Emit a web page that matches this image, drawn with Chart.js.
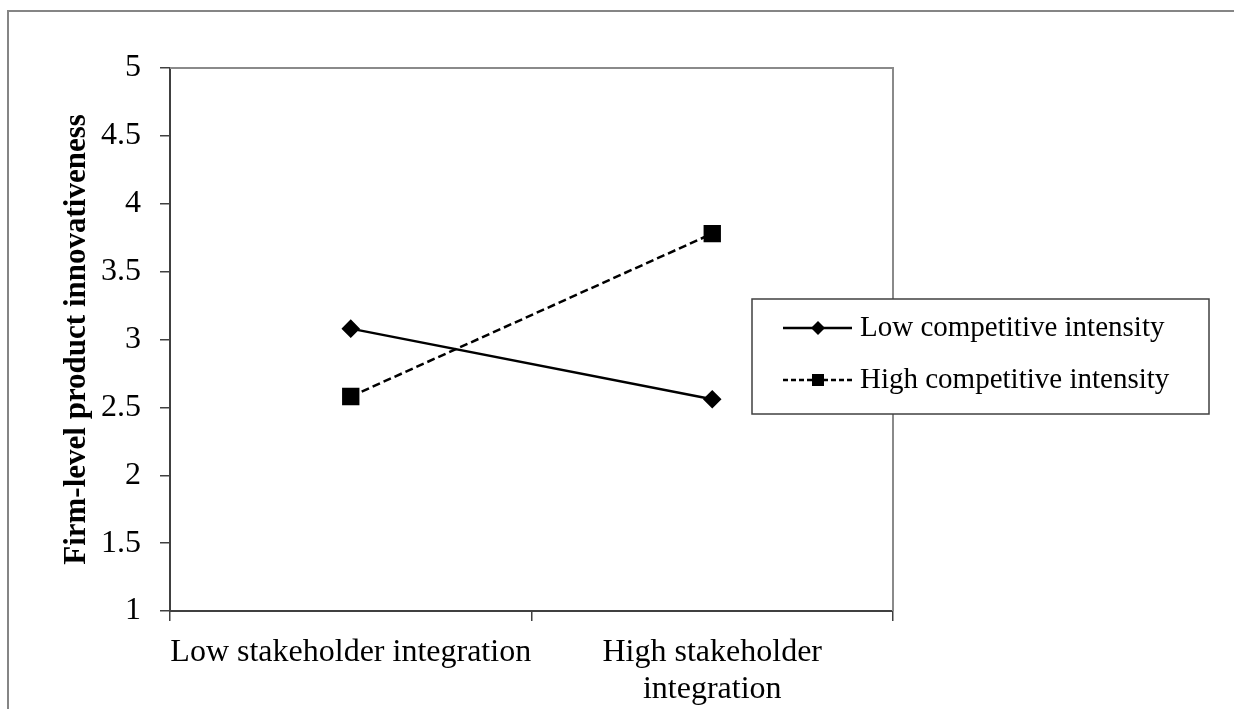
<!DOCTYPE html>
<html lang="en">
<head>
  <meta charset="UTF-8">
  <title>Firm-level product innovativeness</title>
  <script src="https://cdn.jsdelivr.net/npm/chart.js"></script>
  <style>
    html, body {
      margin: 0;
      height: 100%;
      background: #fff;
    }
    #wrap {
      width: 1234px;
      height: 709px;
      position: relative;
    }
  </style>
</head>
<body>

<div id="wrap">
  <canvas id="plot"></canvas>
</div>

<script>
// data
const categories = ['Low stakeholder integration', ['High stakeholder', 'integration']];
const lowCompetition = [3.08, 2.56];
const highCompetition = [2.58, 3.78];
const seriesNames = ['Low competitive intensity', 'High competitive intensity'];
const yMin = 1, yMax = 5, yStep = 0.5;

const FONT = '"Liberation Serif", "Times New Roman", serif';

// frame, plot border and boxed legend
const decor = {
  id: 'decor',
  afterDraw(chart) {
    const ctx = chart.ctx;
    const a = chart.chartArea;
    ctx.save();

    // outer frame (left + top)
    ctx.strokeStyle = '#858585';
    ctx.lineWidth = 2;
    ctx.beginPath();
    ctx.moveTo(8, 709);
    ctx.lineTo(8, 11);
    ctx.lineTo(1234, 11);
    ctx.stroke();

    // plot area top / right edge
    ctx.strokeStyle = '#8a8a8a';
    ctx.beginPath();
    ctx.moveTo(a.left, a.top);
    ctx.lineTo(a.right, a.top);
    ctx.lineTo(a.right, a.bottom);
    ctx.stroke();

    // legend
    const bx = 752, by = 299, bw = 457, bh = 115;
    ctx.fillStyle = '#fff';
    ctx.fillRect(bx, by, bw, bh);
    ctx.strokeStyle = '#404040';
    ctx.lineWidth = 1.5;
    ctx.strokeRect(bx, by, bw, bh);

    const rows = [328, 380];
    chart.data.datasets.forEach((ds, i) => {
      const y = rows[i];
      ctx.strokeStyle = '#000';
      ctx.lineWidth = 2.5;
      ctx.setLineDash(i === 0 ? [] : [5, 3]);
      ctx.beginPath();
      ctx.moveTo(783, y);
      ctx.lineTo(852, y);
      ctx.stroke();
      ctx.setLineDash([]);
      ctx.fillStyle = '#000';
      ctx.beginPath();
      if (ds.pointStyle === 'rectRot') {
        ctx.moveTo(818, y - 7);
        ctx.lineTo(825, y);
        ctx.lineTo(818, y + 7);
        ctx.lineTo(811, y);
        ctx.closePath();
      } else {
        ctx.rect(812, y - 6, 12, 12);
      }
      ctx.fill();

      ctx.font = '29px ' + FONT;
      ctx.textBaseline = 'middle';
      ctx.textAlign = 'left';
      ctx.fillText(ds.label, 860, y);
    });

    ctx.restore();
  }
};

new Chart(document.getElementById('plot'), {
  type: 'line',
  data: {
    labels: categories,
    datasets: [
      {
        label: seriesNames[0],
        data: lowCompetition,
        borderColor: '#000',
        backgroundColor: '#000',
        borderWidth: 2.5,
        pointStyle: 'rectRot',
        pointRadius: 7.5,
        pointHoverRadius: 7.5
      },
      {
        label: seriesNames[1],
        data: highCompetition,
        borderColor: '#000',
        backgroundColor: '#000',
        borderWidth: 2.5,
        borderDash: [8, 4],
        pointStyle: 'rect',
        pointRadius: 10.5,
        pointHoverRadius: 10.5
      }
    ]
  },
  options: {
    responsive: true,
    maintainAspectRatio: false,
    animation: false,
    layout: { padding: { left: 40, top: 68, right: 341, bottom: 0 } },
    plugins: {
      legend: { display: false },
      tooltip: { enabled: false }
    },
    scales: {
      x: {
        offset: true,
        grid: {
          offset: true,
          drawOnChartArea: false,
          tickLength: 10,
          color: '#404040',
          lineWidth: 1.5
        },
        border: { color: '#404040', width: 2 },
        ticks: {
          color: '#000',
          padding: 13,
          maxRotation: 0,
          autoSkip: false,
          font: { family: FONT, size: 32, lineHeight: 1.15 }
        },
        afterFit: s => { s.height = 98; }
      },
      y: {
        min: yMin,
        max: yMax,
        grid: {
          drawOnChartArea: false,
          tickLength: 10,
          color: '#404040',
          lineWidth: 1.5
        },
        border: { color: '#404040', width: 2 },
        ticks: {
          stepSize: yStep,
          color: '#000',
          padding: 19,
          font: { family: FONT, size: 32 },
          callback: v => String(v)
        },
        title: {
          display: true,
          text: 'Firm-level product innovativeness',
          color: '#000',
          padding: { top: 18, bottom: 0 },
          font: { family: FONT, size: 31, weight: 'bold', lineHeight: 1.2 }
        },
        afterFit: s => { s.width = 130; }
      }
    }
  },
  plugins: [decor]
});
</script>

</body>
</html>
